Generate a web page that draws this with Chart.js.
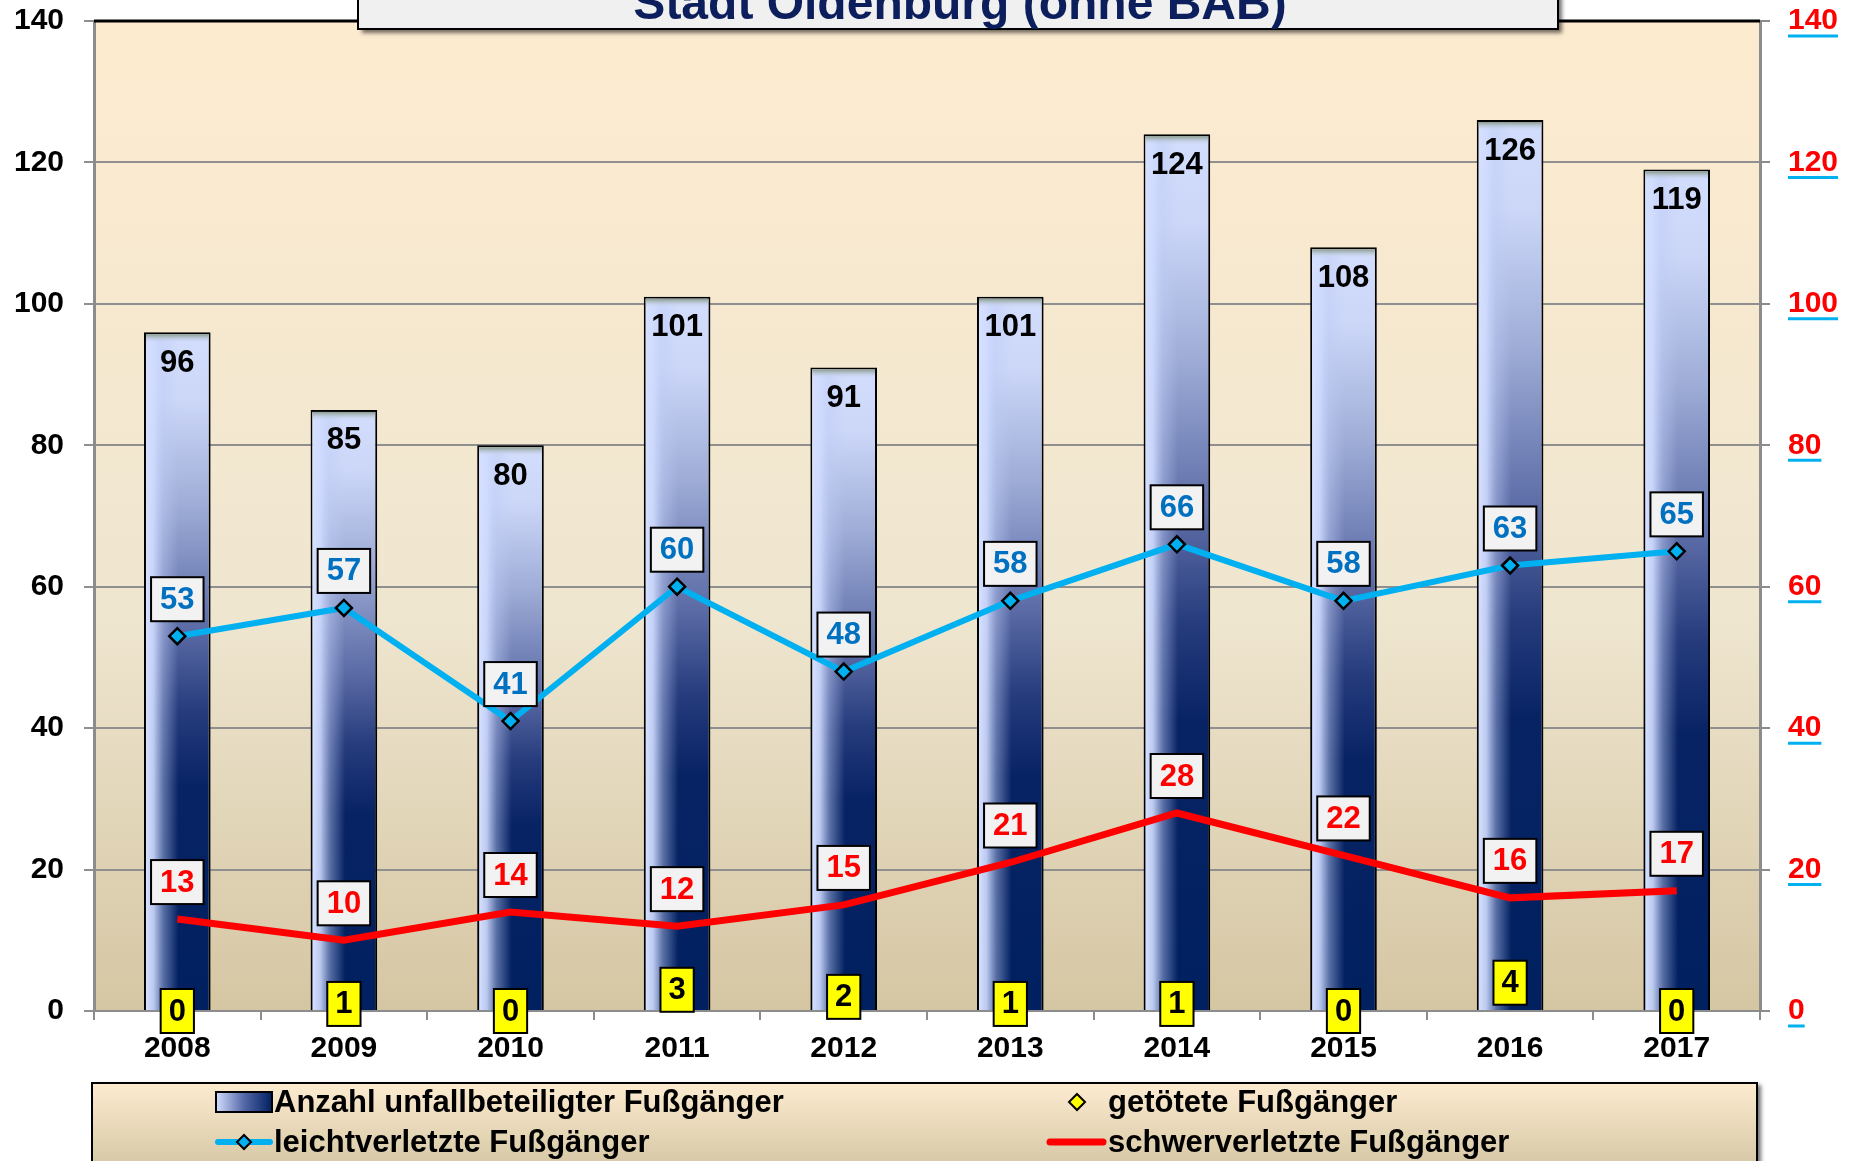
<!DOCTYPE html>
<html lang="de">
<head>
<meta charset="utf-8">
<title>Fußgänger - Stadt Oldenburg (ohne BAB)</title>
<script src="https://cdn.jsdelivr.net/npm/chart.js"></script>
<style>
  html, body { margin: 0; padding: 0; background: #fff; }
  #wrap { position: relative; width: 1854px; height: 1161px; }
</style>
</head>
<body>
<div id="wrap"><canvas id="chart"></canvas></div>
<script>
// data
const years = ['2008', '2009', '2010', '2011', '2012', '2013', '2014', '2015', '2016', '2017'];
const anzahl = [96, 85, 80, 101, 91, 101, 124, 108, 126, 119];
const leicht = [53, 57, 41, 60, 48, 58, 66, 58, 63, 65];
const schwer = [13, 10, 14, 12, 15, 21, 28, 22, 16, 17];
const getoetet = [0, 1, 0, 3, 2, 1, 1, 0, 4, 0];
const yTicks = [0, 20, 40, 60, 80, 100, 120, 140];
const chartTitle = 'Stadt Oldenburg (ohne BAB)';
const seriesNames = [
  'Anzahl unfallbeteiligter Fußgänger',
  'getötete Fußgänger',
  'leichtverletzte Fußgänger',
  'schwerverletzte Fußgänger'
];

const FONT = "'Liberation Sans', Arial, sans-serif";
const NAVY = '#002060';
const CYAN = '#00B0F0';
const RED = '#FF0000';
const YELLOW = '#FFFF00';

function barFill(ctx) {
  const chart = ctx.chart;
  const y = chart.scales.y;
  if (!y || !chart.chartArea || ctx.type !== 'data') return '#6070a8';
  const top = y.getPixelForValue(ctx.raw);
  const base = y.getPixelForValue(0);
  const g = chart.ctx.createLinearGradient(0, top, 0, base);
  g.addColorStop(0, '#d3ddfd');
  g.addColorStop(0.1, '#ccd7f8');
  g.addColorStop(0.25, '#a0aed8');
  g.addColorStop(0.44, '#5a6aa5');
  g.addColorStop(0.56, '#253b7c');
  g.addColorStop(0.67, '#082364');
  g.addColorStop(1, NAVY);
  return g;
}

// plot background, top border, bar shading
const decor = {
  id: 'decor',
  beforeDraw(chart) {
    const { ctx, chartArea: a } = chart;
    const g = ctx.createLinearGradient(0, a.top, 0, a.bottom);
    g.addColorStop(0, '#fdebcf');
    g.addColorStop(0.6, '#efe6d0');
    g.addColorStop(1, '#d5c6a3');
    ctx.save();
    ctx.fillStyle = g;
    ctx.fillRect(a.left, a.top, a.right - a.left, a.bottom - a.top);
    ctx.restore();
  },
  afterDatasetDraw(chart, args) {
    if (args.index !== 0) return;
    const ctx = chart.ctx;
    ctx.save();
    args.meta.data.forEach(bar => {
      const p = bar.getProps(['x', 'y', 'base', 'width'], true);
      const b = 2;
      const left = p.x - p.width / 2 + b;
      const w = p.width - 2 * b;
      const top = p.y + b;
      const h = p.base - p.y - b;
      // light left edge
      const hg = ctx.createLinearGradient(left, 0, left + w, 0);
      hg.addColorStop(0, 'rgba(214,224,255,1)');
      hg.addColorStop(0.12, 'rgba(208,220,255,0.9)');
      hg.addColorStop(0.28, 'rgba(190,204,245,0.45)');
      hg.addColorStop(0.52, 'rgba(190,204,245,0)');
      ctx.fillStyle = hg;
      ctx.fillRect(left, top, w, h);
      // top cap
      const cg = ctx.createLinearGradient(0, top, 0, top + 9);
      cg.addColorStop(0, '#8a9b8b');
      cg.addColorStop(1, 'rgba(211,221,253,0)');
      ctx.fillStyle = cg;
      ctx.fillRect(left, top, w, 9);
    });
    ctx.restore();
  }
};

function boxLabel(ctx, text, cx, cy, fill, color, padX, h) {
  ctx.font = 'bold 31px ' + FONT;
  const w = ctx.measureText(text).width + 2 * padX;
  ctx.fillStyle = fill;
  ctx.fillRect(cx - w / 2, cy - h / 2, w, h);
  ctx.lineWidth = 2;
  ctx.strokeStyle = '#000';
  ctx.strokeRect(cx - w / 2, cy - h / 2, w, h);
  ctx.fillStyle = color;
  ctx.textAlign = 'center';
  ctx.textBaseline = 'middle';
  ctx.fillText(text, cx, cy + 1);
}

const valueLabels = {
  id: 'valueLabels',
  afterDatasetsDraw(chart) {
    const ctx = chart.ctx;
    ctx.save();
    // bar totals
    chart.getDatasetMeta(0).data.forEach((bar, i) => {
      ctx.font = 'bold 31px ' + FONT;
      ctx.fillStyle = '#000';
      ctx.textAlign = 'center';
      ctx.textBaseline = 'middle';
      ctx.fillText(String(anzahl[i]), bar.x, bar.y + 31);
    });
    chart.getDatasetMeta(3).data.forEach((pt, i) => {
      boxLabel(ctx, String(schwer[i]), pt.x, pt.y - 37, '#f2f2f2', RED, 9, 44);
    });
    chart.getDatasetMeta(2).data.forEach((pt, i) => {
      boxLabel(ctx, String(leicht[i]), pt.x, pt.y - 37, '#f2f2f2', '#0070C0', 9, 44);
    });
    chart.getDatasetMeta(1).data.forEach((pt, i) => {
      boxLabel(ctx, String(getoetet[i]), pt.x, pt.y, YELLOW, '#000', 8, 44);
    });
    ctx.restore();
  }
};

function diamond(ctx, x, y, r, fill) {
  ctx.beginPath();
  ctx.moveTo(x, y - r);
  ctx.lineTo(x + r, y);
  ctx.lineTo(x, y + r);
  ctx.lineTo(x - r, y);
  ctx.closePath();
  ctx.fillStyle = fill;
  ctx.fill();
  ctx.lineWidth = 2;
  ctx.strokeStyle = '#000';
  ctx.stroke();
}

const frame = {
  id: 'frame',
  afterDraw(chart) {
    const { ctx, chartArea: a } = chart;
    ctx.save();
    // black top edge of plot
    ctx.strokeStyle = '#000';
    ctx.lineWidth = 3;
    ctx.beginPath();
    ctx.moveTo(a.left, a.top);
    ctx.lineTo(a.right, a.top);
    ctx.stroke();

    // cyan underline on right tick labels
    const y1 = chart.scales.y1;
    ctx.font = 'bold 30px ' + FONT;
    ctx.strokeStyle = CYAN;
    ctx.lineWidth = 3;
    y1.ticks.forEach(t => {
      const py = y1.getPixelForValue(t.value);
      const tw = ctx.measureText(String(t.value)).width;
      const lx = a.right + 28;
      ctx.beginPath();
      ctx.moveTo(lx, py + 15);
      ctx.lineTo(lx + tw, py + 15);
      ctx.stroke();
    });

    // title box, cut at the top edge
    ctx.shadowColor = 'rgba(0,0,0,0.55)';
    ctx.shadowBlur = 4;
    ctx.shadowOffsetX = 4;
    ctx.shadowOffsetY = 4;
    ctx.fillStyle = '#f0f0f0';
    ctx.fillRect(358, -20, 1200, 49);
    ctx.shadowColor = 'transparent';
    ctx.lineWidth = 2;
    ctx.strokeStyle = '#000';
    ctx.strokeRect(358, -20, 1200, 49);
    ctx.fillStyle = '#0c1f5c';
    ctx.font = 'bold 48px ' + FONT;
    ctx.textAlign = 'center';
    ctx.textBaseline = 'alphabetic';
    ctx.fillText(chartTitle, 960, 19);

    // legend box
    const lx = 92, ly = 1083, lw = 1665, lh = 100;
    const lg = ctx.createLinearGradient(0, ly, 0, 1161);
    lg.addColorStop(0, '#fdebcf');
    lg.addColorStop(1, '#d8caa8');
    ctx.shadowColor = 'rgba(0,0,0,0.55)';
    ctx.shadowBlur = 4;
    ctx.shadowOffsetX = 4;
    ctx.shadowOffsetY = 2;
    ctx.fillStyle = lg;
    ctx.fillRect(lx, ly, lw, lh);
    ctx.shadowColor = 'transparent';
    ctx.strokeStyle = '#000';
    ctx.lineWidth = 2;
    ctx.strokeRect(lx, ly, lw, lh);

    const ds = chart.data.datasets;
    const row1 = 1102, row2 = 1142;
    ctx.font = 'bold 31px ' + FONT;
    ctx.textAlign = 'left';
    ctx.textBaseline = 'middle';
    // bar icon
    const ig = ctx.createLinearGradient(216, 0, 272, 0);
    ig.addColorStop(0, '#d3ddfd');
    ig.addColorStop(0.5, '#5468a8');
    ig.addColorStop(1, NAVY);
    ctx.fillStyle = ig;
    ctx.fillRect(216, row1 - 10, 56, 20);
    ctx.strokeStyle = '#000';
    ctx.lineWidth = 2;
    ctx.strokeRect(216, row1 - 10, 56, 20);
    ctx.fillStyle = '#000';
    ctx.fillText(ds[0].label, 274, row1 + 1);
    // leicht icon
    ctx.strokeStyle = CYAN;
    ctx.lineWidth = 6;
    ctx.lineCap = 'round';
    ctx.beginPath();
    ctx.moveTo(218, row2);
    ctx.lineTo(270, row2);
    ctx.stroke();
    diamond(ctx, 244, row2, 7, CYAN);
    ctx.fillStyle = '#000';
    ctx.fillText(ds[2].label, 274, row2 + 1);
    // getoetet icon
    diamond(ctx, 1077, row1, 8, YELLOW);
    ctx.fillStyle = '#000';
    ctx.fillText(ds[1].label, 1108, row1 + 1);
    // schwer icon
    ctx.strokeStyle = RED;
    ctx.lineWidth = 7;
    ctx.beginPath();
    ctx.moveTo(1050, row2);
    ctx.lineTo(1103, row2);
    ctx.stroke();
    ctx.fillStyle = '#000';
    ctx.fillText(ds[3].label, 1108, row2 + 1);
    ctx.restore();
  }
};

const tickFont = { family: FONT, size: 30, weight: 'bold' };

new Chart(document.getElementById('chart'), {
  type: 'bar',
  data: {
    labels: years,
    datasets: [
      {
        type: 'bar',
        label: seriesNames[0],
        data: anzahl,
        backgroundColor: barFill,
        borderColor: '#000',
        borderWidth: 2,
        barPercentage: 0.4,
        categoryPercentage: 1,
        order: 4,
        yAxisID: 'y'
      },
      {
        type: 'line',
        label: seriesNames[1],
        data: getoetet,
        showLine: false,
        pointStyle: 'rectRot',
        pointRadius: 7,
        pointBackgroundColor: YELLOW,
        pointBorderColor: '#000',
        pointBorderWidth: 2,
        order: 1,
        yAxisID: 'y'
      },
      {
        type: 'line',
        label: seriesNames[2],
        data: leicht,
        borderColor: CYAN,
        borderWidth: 6,
        tension: 0,
        pointStyle: 'rectRot',
        pointRadius: 8,
        pointBackgroundColor: CYAN,
        pointBorderColor: '#000',
        pointBorderWidth: 2.5,
        order: 2,
        yAxisID: 'y'
      },
      {
        type: 'line',
        label: seriesNames[3],
        data: schwer,
        borderColor: RED,
        borderWidth: 7,
        tension: 0,
        pointRadius: 0,
        order: 3,
        yAxisID: 'y'
      }
    ]
  },
  options: {
    responsive: true,
    maintainAspectRatio: false,
    animation: false,
    events: [],
    layout: { padding: { top: 21, bottom: 90, left: 0, right: 0 } },
    plugins: {
      legend: { display: false },
      tooltip: { enabled: false },
      title: { display: false }
    },
    scales: {
      x: {
        offset: true,
        grid: { offset: true, drawOnChartArea: false, color: '#8c8c8c', lineWidth: 2, tickLength: 9 },
        border: { color: '#8c8c8c', width: 2 },
        ticks: { color: '#000', font: tickFont, padding: 11, maxRotation: 0 },
        afterFit(s) { s.height = 60; s.paddingLeft = 0; s.paddingRight = 0; }
      },
      y: {
        position: 'left',
        min: 0,
        max: 140,
        afterBuildTicks(s) { s.ticks = yTicks.map(v => ({ value: v })); },
        grid: { color: '#8f8f8f', lineWidth: 2, tickLength: 10 },
        border: { color: '#8c8c8c', width: 3 },
        ticks: { color: '#000', font: tickFont, padding: 20 },
        afterFit(s) { s.width = 94; s.paddingTop = 0; s.paddingBottom = 0; }
      },
      y1: {
        position: 'right',
        min: 0,
        max: 140,
        afterBuildTicks(s) { s.ticks = yTicks.map(v => ({ value: v })); },
        grid: { drawOnChartArea: false, color: '#8c8c8c', lineWidth: 2, tickLength: 10 },
        border: { color: '#8c8c8c', width: 3 },
        ticks: { color: RED, font: tickFont, padding: 18 },
        afterFit(s) { s.width = 94; s.paddingTop = 0; s.paddingBottom = 0; }
      }
    }
  },
  plugins: [decor, valueLabels, frame]
});
</script>
</body>
</html>
